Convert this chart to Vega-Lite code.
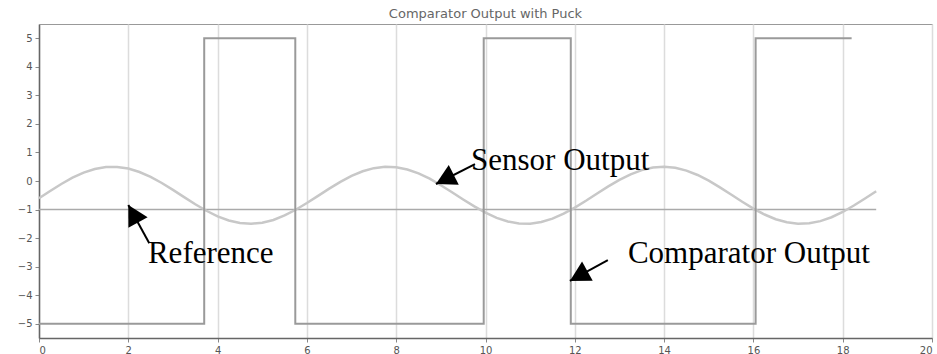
{
  "$schema": "https://vega.github.io/schema/vega-lite/v6.json",
  "width": 893,
  "height": 314,
  "autosize": "none",
  "padding": {"left": 39, "top": 24, "right": 5, "bottom": 16},
  "background": "white",
  "title": {
    "text": "Comparator Output with Puck",
    "font": "DejaVu Sans",
    "fontSize": 13,
    "fontWeight": "normal",
    "color": "#666",
    "baseline": "bottom",
    "frame": "group",
    "offset": -10
  },
  "config": {
    "view": {"stroke": "#999", "strokeWidth": 1},
    "axis": {
      "labelFont": "DejaVu Sans",
      "labelFontSize": 10,
      "labelColor": "#555",
      "domainColor": "#666",
      "domainWidth": 1.5,
      "tickColor": "#888",
      "title": null
    }
  },
  "datasets": {
    "sensor": [
      {"x": 0, "v": -0.602}, {"x": 0.25, "v": -0.348}, {"x": 0.5, "v": -0.104}, {"x": 0.75, "v": 0.115},
      {"x": 1.0, "v": 0.294}, {"x": 1.25, "v": 0.421}, {"x": 1.5, "v": 0.489}, {"x": 1.75, "v": 0.494},
      {"x": 2.0, "v": 0.435}, {"x": 2.25, "v": 0.315}, {"x": 2.5, "v": 0.142}, {"x": 2.75, "v": -0.071},
      {"x": 3.0, "v": -0.313}, {"x": 3.25, "v": -0.566}, {"x": 3.5, "v": -0.815}, {"x": 3.75, "v": -1.043},
      {"x": 4.0, "v": -1.237}, {"x": 4.25, "v": -1.382}, {"x": 4.5, "v": -1.473}, {"x": 4.75, "v": -1.5},
      {"x": 5.0, "v": -1.461}, {"x": 5.25, "v": -1.364}, {"x": 5.5, "v": -1.206}, {"x": 5.75, "v": -1.007},
      {"x": 6.0, "v": -0.772}, {"x": 6.25, "v": -0.52}, {"x": 6.5, "v": -0.268}, {"x": 6.75, "v": -0.031},
      {"x": 7.0, "v": 0.177}, {"x": 7.25, "v": 0.34}, {"x": 7.5, "v": 0.45}, {"x": 7.75, "v": 0.498},
      {"x": 8.0, "v": 0.482}, {"x": 8.25, "v": 0.402}, {"x": 8.5, "v": 0.265}, {"x": 8.75, "v": 0.08},
      {"x": 9.0, "v": -0.147}, {"x": 9.25, "v": -0.393}, {"x": 9.5, "v": -0.647}, {"x": 9.75, "v": -0.891},
      {"x": 10.0, "v": -1.111}, {"x": 10.25, "v": -1.291}, {"x": 10.5, "v": -1.42}, {"x": 10.75, "v": -1.489},
      {"x": 11.0, "v": -1.495}, {"x": 11.25, "v": -1.436}, {"x": 11.5, "v": -1.318}, {"x": 11.75, "v": -1.145},
      {"x": 12.0, "v": -0.934}, {"x": 12.25, "v": -0.693}, {"x": 12.5, "v": -0.439}, {"x": 12.75, "v": -0.19},
      {"x": 13.0, "v": 0.04}, {"x": 13.25, "v": 0.234}, {"x": 13.5, "v": 0.382}, {"x": 13.75, "v": 0.472},
      {"x": 14.0, "v": 0.5}, {"x": 14.25, "v": 0.463}, {"x": 14.5, "v": 0.365}, {"x": 14.75, "v": 0.211},
      {"x": 15.0, "v": 0.01}, {"x": 15.25, "v": -0.224}, {"x": 15.5, "v": -0.474}, {"x": 15.75, "v": -0.727},
      {"x": 16.0, "v": -0.965}, {"x": 16.25, "v": -1.174}, {"x": 16.5, "v": -1.339}, {"x": 16.75, "v": -1.447},
      {"x": 17.0, "v": -1.498}, {"x": 17.25, "v": -1.483}, {"x": 17.5, "v": -1.405}, {"x": 17.75, "v": -1.269},
      {"x": 18.0, "v": -1.085}, {"x": 18.25, "v": -0.859}, {"x": 18.5, "v": -0.612}, {"x": 18.75, "v": -0.358}
    ],
    "reference": [
      {"x": 0, "v": -1}, {"x": 18.75, "v": -1}
    ],
    "comparator": [
      {"i": 1, "x": 0, "v": -5}, {"i": 2, "x": 3.7, "v": -5}, {"i": 3, "x": 3.7, "v": 5},
      {"i": 4, "x": 5.74, "v": 5}, {"i": 5, "x": 5.74, "v": -5}, {"i": 6, "x": 9.96, "v": -5},
      {"i": 7, "x": 9.96, "v": 5}, {"i": 8, "x": 11.91, "v": 5}, {"i": 9, "x": 11.91, "v": -5},
      {"i": 10, "x": 16.05, "v": -5}, {"i": 11, "x": 16.05, "v": 5}, {"i": 12, "x": 18.2, "v": 5}
    ],
    "labels": [
      {"label": "Sensor Output", "x": 9.675, "v": 0.385},
      {"label": "Reference", "x": 2.44, "v": -2.87},
      {"label": "Comparator Output", "x": 13.19, "v": -2.87}
    ],
    "arrows": [
      {"name": "sensor", "tipX": 8.89, "tipV": -0.105, "tailX": 9.765, "tailV": 0.595},
      {"name": "reference", "tipX": 2.0, "tipV": -0.84, "tailX": 2.47, "tailV": -2.18},
      {"name": "comparator", "tipX": 11.89, "tipV": -3.5, "tailX": 12.74, "tailV": -2.77}
    ]
  },
  "layer": [
    {
      "data": {"name": "reference"},
      "mark": {"type": "line", "color": "#aaa", "strokeWidth": 1.5},
      "encoding": {
        "x": {
          "field": "x", "type": "quantitative",
          "scale": {"domain": [0, 20], "nice": false, "zero": false},
          "axis": {"values": [0, 2, 4, 6, 8, 10, 12, 14, 16, 18, 20], "grid": true, "gridColor": "#dcdcdc", "gridWidth": 1.5, "tickSize": 4, "labelPadding": 3, "labelOverlap": false}
        },
        "y": {
          "field": "v", "type": "quantitative",
          "scale": {"domain": [-5.5, 5.5], "nice": false, "zero": false},
          "axis": {"values": [-5, -4, -3, -2, -1, 0, 1, 2, 3, 4, 5], "grid": false, "tickSize": 4, "labelPadding": 3, "labelOverlap": false, "labelSeparation": 0, "tickCount": 11}
        }
      }
    },
    {
      "data": {"name": "sensor"},
      "mark": {"type": "line", "color": "#c8c8c8", "strokeWidth": 2.5},
      "encoding": {
        "x": {"field": "x", "type": "quantitative"},
        "y": {"field": "v", "type": "quantitative"}
      }
    },
    {
      "data": {"name": "comparator"},
      "mark": {"type": "line", "color": "#9a9a9a", "strokeWidth": 2},
      "encoding": {
        "x": {"field": "x", "type": "quantitative"},
        "y": {"field": "v", "type": "quantitative"},
        "order": {"field": "i", "type": "quantitative"}
      }
    },
    {
      "data": {"name": "arrows"},
      "mark": {"type": "rule", "color": "black", "strokeWidth": 2},
      "encoding": {
        "x": {"field": "tipX", "type": "quantitative"},
        "y": {"field": "tipV", "type": "quantitative"},
        "x2": {"field": "tailX"},
        "y2": {"field": "tailV"}
      }
    },
    {
      "data": {"name": "arrows"},
      "transform": [{"filter": "datum.name === 'sensor'"}],
      "mark": {"type": "point", "shape": "M0,0L1.1,2L-1.1,2Z", "size": 400, "filled": true, "color": "black", "opacity": 1, "angle": -117},
      "encoding": {
        "x": {"field": "tipX", "type": "quantitative"},
        "y": {"field": "tipV", "type": "quantitative"}
      }
    },
    {
      "data": {"name": "arrows"},
      "transform": [{"filter": "datum.name === 'reference'"}],
      "mark": {"type": "point", "shape": "M0,0L1.1,2L-1.1,2Z", "size": 400, "filled": true, "color": "black", "opacity": 1, "angle": -29},
      "encoding": {
        "x": {"field": "tipX", "type": "quantitative"},
        "y": {"field": "tipV", "type": "quantitative"}
      }
    },
    {
      "data": {"name": "arrows"},
      "transform": [{"filter": "datum.name === 'comparator'"}],
      "mark": {"type": "point", "shape": "M0,0L1.1,2L-1.1,2Z", "size": 400, "filled": true, "color": "black", "opacity": 1, "angle": -119},
      "encoding": {
        "x": {"field": "tipX", "type": "quantitative"},
        "y": {"field": "tipV", "type": "quantitative"}
      }
    },
    {
      "data": {"name": "labels"},
      "mark": {"type": "text", "font": "Liberation Serif", "fontSize": 31, "align": "left", "baseline": "alphabetic", "color": "black"},
      "encoding": {
        "x": {"field": "x", "type": "quantitative"},
        "y": {"field": "v", "type": "quantitative"},
        "text": {"field": "label"}
      }
    }
  ]
}
